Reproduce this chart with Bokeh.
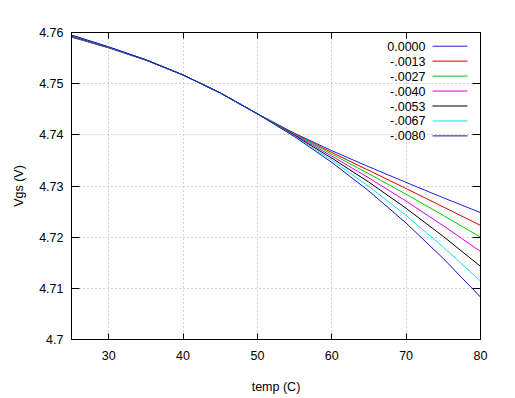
from bokeh.plotting import figure
from bokeh.models import (Label, LinearAxis, SingleIntervalTicker,
                          CustomJSTickFormatter)
from bokeh.embed import file_html
from bokeh.resources import INLINE

# ---------------- data ----------------
temp = [25, 30, 35, 40, 45, 50, 55, 60, 65, 70, 75, 80]

vgs_0000 = [4.7591, 4.7570, 4.7546, 4.7517, 4.7482, 4.7441, 4.7403, 4.7369, 4.73375, 4.7307, 4.7277, 4.7248]
vgs_0013 = [4.75916, 4.75703, 4.75461, 4.7517, 4.7482, 4.7441, 4.7402, 4.73656, 4.73303, 4.7295, 4.7259, 4.7223]
vgs_0027 = [4.75922, 4.75706, 4.75462, 4.7517, 4.7482, 4.7441, 4.74011, 4.73624, 4.73237, 4.72839, 4.72424, 4.7200]
vgs_0040 = [4.75929, 4.75709, 4.75464, 4.7517, 4.7482, 4.7441, 4.7400, 4.73585, 4.73157, 4.72704, 4.72223, 4.7172]
vgs_0053 = [4.75936, 4.75713, 4.75465, 4.7517, 4.7482, 4.7441, 4.73988, 4.73545, 4.73074, 4.72564, 4.72014, 4.7143]
vgs_0067 = [4.75944, 4.75716, 4.75467, 4.7517, 4.7482, 4.7441, 4.73976, 4.73505, 4.72990, 4.72424, 4.71805, 4.7114]
vgs_0080 = [4.75951, 4.75720, 4.75468, 4.7517, 4.7482, 4.7441, 4.73964, 4.73462, 4.72901, 4.72275, 4.71582, 4.7083]

series_labels = ["0.0000", "-.0013", "-.0027", "-.0040", "-.0053", "-.0067", "-.0080"]
series_values = [vgs_0000, vgs_0013, vgs_0027, vgs_0040, vgs_0053, vgs_0067, vgs_0080]
series_colors = ["#1e1ee0", "#e00000", "#00cc00", "#e000e0", "#000000", "#10e4f4", "#1414b8"]

title_text = "70C falloff IXTK40P50P Vgs at Id=1.3A, Vds=26V"
x_label = "temp (C)"
y_label = "Vgs (V)"

# ---------------- layout ----------------
X0, X1 = 25, 80
Y0, Y1 = 4.70, 4.76
FONT = "Liberation Sans"
FS = "12.5px"

# frame in picture pixels
FL, FR, FT, FB = 71, 480, 32, 339
W, H = 510, 396

def dx(px):
    return X0 + (px - FL) * (X1 - X0) / (FR - FL)

def dy(py):
    return Y1 - (py - FT) * (Y1 - Y0) / (FB - FT)

p = figure(width=W, height=H, x_range=(X0, X1), y_range=(Y0, Y1),
           output_backend="svg", toolbar_location=None,
           min_border_left=FL, min_border_right=W - FR,
           min_border_top=FT, min_border_bottom=H - FB,
           background_fill_color="white", border_fill_color="white")

p.outline_line_color = "black"
p.outline_line_width = 1

p.xaxis.ticker = SingleIntervalTicker(interval=10)
p.yaxis.ticker = SingleIntervalTicker(interval=0.01)
p.yaxis.formatter = CustomJSTickFormatter(code="return String(Number(tick.toFixed(2)));")

for ax in (p.xaxis[0], p.yaxis[0]):
    ax.axis_line_color = "black"
    ax.major_tick_line_color = "black"
    ax.major_tick_out = 0
    ax.minor_tick_in = 0
    ax.minor_tick_out = 0
    ax.major_label_text_font = FONT
    ax.major_label_text_font_size = FS
    ax.major_label_text_color = "black"
    ax.axis_label_text_font = FONT
    ax.axis_label_text_font_size = FS
    ax.axis_label_text_font_style = "normal"
    ax.axis_label_text_color = "black"

p.xaxis.major_tick_in = 6
p.yaxis.major_tick_in = 8
p.xaxis.axis_label = x_label
p.yaxis.axis_label = y_label
p.xaxis.major_label_standoff = 11
p.yaxis.major_label_standoff = 8
p.xaxis.axis_label_standoff = 17
p.yaxis.axis_label_standoff = 10

# mirror axes (ticks only) on top and right
blank = CustomJSTickFormatter(code="return '';")
top = LinearAxis(ticker=SingleIntervalTicker(interval=10), formatter=blank,
                 major_label_text_font_size=FS,
                 major_tick_in=6, major_tick_out=0, minor_tick_in=0, minor_tick_out=0,
                 axis_line_color="black", major_label_standoff=0)
right = LinearAxis(ticker=SingleIntervalTicker(interval=0.01), formatter=blank,
                   major_label_text_font_size=FS,
                   major_tick_in=8, major_tick_out=0, minor_tick_in=0, minor_tick_out=0,
                   axis_line_color="black", major_label_standoff=0)
p.add_layout(top, "above")
p.add_layout(right, "right")

p.grid.grid_line_color = "#a8a8a8"
p.grid.grid_line_dash = "1 3"
p.grid.grid_line_width = 1

for vals, col in zip(series_values, series_colors):
    p.line(temp, vals, line_color=col, line_width=1)

# legend (gnuplot style: label then sample line)
row0, row_step = 45.7, 14.95
for i, (lab, col) in enumerate(zip(series_labels, series_colors)):
    ry = row0 + i * row_step
    p.add_layout(Label(x=dx(425), y=dy(ry), text=lab, text_align="right",
                       text_baseline="middle", text_font=FONT, text_font_size=FS,
                       text_color="black"))
    p.line([dx(432), dx(467)], [dy(ry), dy(ry)], line_color=col, line_width=1)

# title
p.add_layout(Label(x=dx(280), y=dy(11), text=title_text, text_align="center",
                   text_baseline="middle", text_font=FONT, text_font_size=FS,
                   text_color="black"))

open("out.html", "w").write(file_html(p, INLINE))
